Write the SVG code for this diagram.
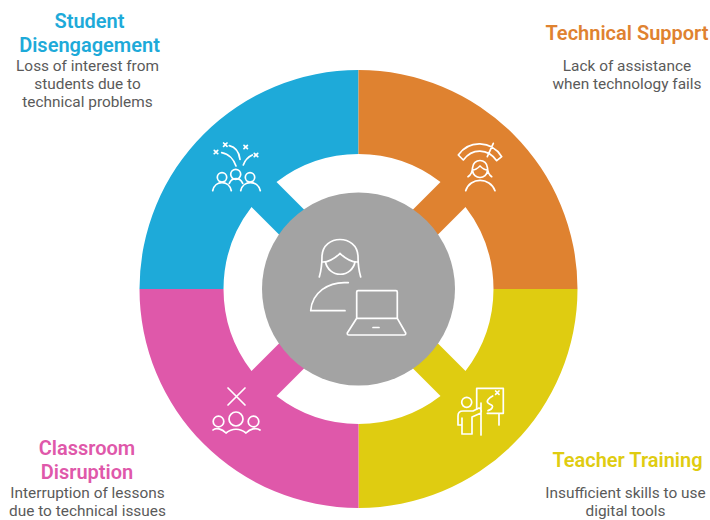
<svg xmlns="http://www.w3.org/2000/svg" width="710" height="520" viewBox="0 0 710 520">
<style>
.h{font-family:Roboto,"Liberation Sans",sans-serif;font-size:20px;font-weight:600;text-anchor:middle}
.b{font-family:Roboto,"Liberation Sans",sans-serif;font-size:15.4px;fill:#5a5a5a;text-anchor:middle}
.i{fill:none;stroke:#fff;stroke-width:1.7;stroke-linecap:round;stroke-linejoin:round}
</style>
<rect width="710" height="520" fill="#fff"/>
<g id="connectors"></g>
<g id="segment-blue">
<path fill="#1eaad9" d="M358.500 70A219 219 0 0 0 139.500 289H223.500A135 135 0 0 1 251.500 207L290.500 246L315.500 221L276.500 182A135 135 0 0 1 358.500 154Z"/>
<path class="i" d="M212.700 190.700C215 180 229 180 231.300 190.700M229.300 183.300C232 177 240 177 242.700 183.300M240.700 190.700C243 180 258 180 260.300 190.700"/>
<circle class="i" cx="222" cy="177.300" r="4.700"/><circle class="i" cx="235.700" cy="174.300" r="5"/><circle class="i" cx="250" cy="177.300" r="4.700"/>
<path class="i" d="M221.700 152.700C229 154 234 160 236 166M229.300 145.700C235 147 239 152 240 159.300M243.300 165C245 160 248 157 252.300 155"/>
<path class="i" d="M214.300 150.300l3.400 3.400M217.700 150.300l-3.400 3.400M223.600 143l3.400 3.400M227 143l-3.400 3.400M244 145.300l3.400 3.400M247.400 145.300l-3.400 3.400M254.300 153.300l3.400 3.400M257.700 153.300l-3.400 3.400"/>
</g>
<g id="segment-orange">
<path fill="#df8230" d="M358.500 70A219 219 0 0 1 577.500 289H493.500A135 135 0 0 0 465.500 207L426.500 246L401.500 221L440.500 182A135 135 0 0 0 358.500 154Z"/>
<path class="i" d="M458.300 155L463.300 160C472 148 488 148 496.700 160.700L501.700 156.700C491 140 469 140 458.300 155ZM493.300 143.300L487.300 156.700"/>
<path class="i" d="M468 176.700C472 174 472.500 170 472.500 168C473 158 487 158 487.500 168C487.500 170 488 174 491.700 176.700M472.500 170C476 170 478 168 480 166C482 168 484 170 487.500 170M472.500 170C473 180 487 180 487.500 170"/>
<path class="i" d="M465.700 190.700C470 177 490 177 495 190.700"/>
</g>
<g id="segment-yellow">
<path fill="#dfcc11" d="M577.500 289A219 219 0 0 1 358.500 508V424A135 135 0 0 0 440.500 396L401.500 357L426.500 332L465.500 371A135 135 0 0 0 493.500 289Z"/>
<path class="i" d="M476.700 409V388.300H503.300V413.300H487.300M499 413.300V425M492.700 396C489 398 486 401 488 403C490 405 494 405 492 408C491 410 489 410 488 410.700"/>
<path class="i" d="M495.600 391l3.400 3.400M499 391l-3.400 3.400"/>
<circle class="i" cx="466.700" cy="402.300" r="5"/>
<path class="i" d="M458 425V416Q458 411 463 411H473L479 408Q482 409 481 413L472 417V434H462V418M458 425H462M481 403V435"/>
</g>
<g id="segment-pink">
<path fill="#df58aa" d="M139.500 289A219 219 0 0 0 358.500 508V424A135 135 0 0 1 276.500 396L315.500 357L290.500 332L251.500 371A135 135 0 0 1 223.500 289Z"/>
<path class="i" d="M228 388L245 405M245 388L228 405"/>
<circle class="i" cx="218.500" cy="421.500" r="5.300"/><circle class="i" cx="236" cy="419" r="7"/><circle class="i" cx="253.500" cy="421.500" r="5.300"/>
<path class="i" d="M213 430C216 427 222 429 226 433C232 428 240 428 246 433C250 429 256 427 260 430"/>
</g>
<g id="center">
<circle cx="358.500" cy="289" r="96.500" fill="#a3a3a3"/>
<path class="i" d="M319.300 277C322 268 322 262 322 256C323 234 357 234 358 256C358 262 358 268 360.700 277M323 262C331 262 336 257 340 253.500C344 257 349 262 357 262"/>
<path class="i" d="M325.500 262A15 15 0 0 0 355 262"/>
<path class="i" d="M348.300 282.700C328 281 312 293 310.700 310.700H345"/>
<path class="i" d="M356.700 318.300V292Q356.700 290.700 358 290.700H396Q397.300 290.700 397.300 292V318.300M356.700 318.300H397.300L405.700 333Q406 335 404 335H349Q347 335 347.300 333L356.700 318.300ZM373 327.500H379"/>
</g>
<g id="label-student"><text class="h" x="89.500" y="28" fill="#1eaad9">Student</text><text class="h" x="89.500" y="52" fill="#1eaad9">Disengagement</text><text class="b" x="87.500" y="71">Loss of interest from</text><text class="b" x="87.500" y="89">students due to</text><text class="b" x="87.500" y="107">technical problems</text></g>
<g id="label-support"><text class="h" x="627" y="40" fill="#df8230">Technical Support</text><text class="b" x="627" y="71">Lack of assistance</text><text class="b" x="627" y="89">when technology fails</text></g>
<g id="label-training"><text class="h" x="627.500" y="467" fill="#dfcc11">Teacher Training</text><text class="b" x="625.500" y="498">Insufficient skills to use</text><text class="b" x="625.500" y="516">digital tools</text></g>
<g id="label-disruption"><text class="h" x="87" y="455" fill="#df58aa">Classroom</text><text class="h" x="87" y="479" fill="#df58aa">Disruption</text><text class="b" x="87.500" y="498">Interruption of lessons</text><text class="b" x="87.500" y="516">due to technical issues</text></g>
</svg>
